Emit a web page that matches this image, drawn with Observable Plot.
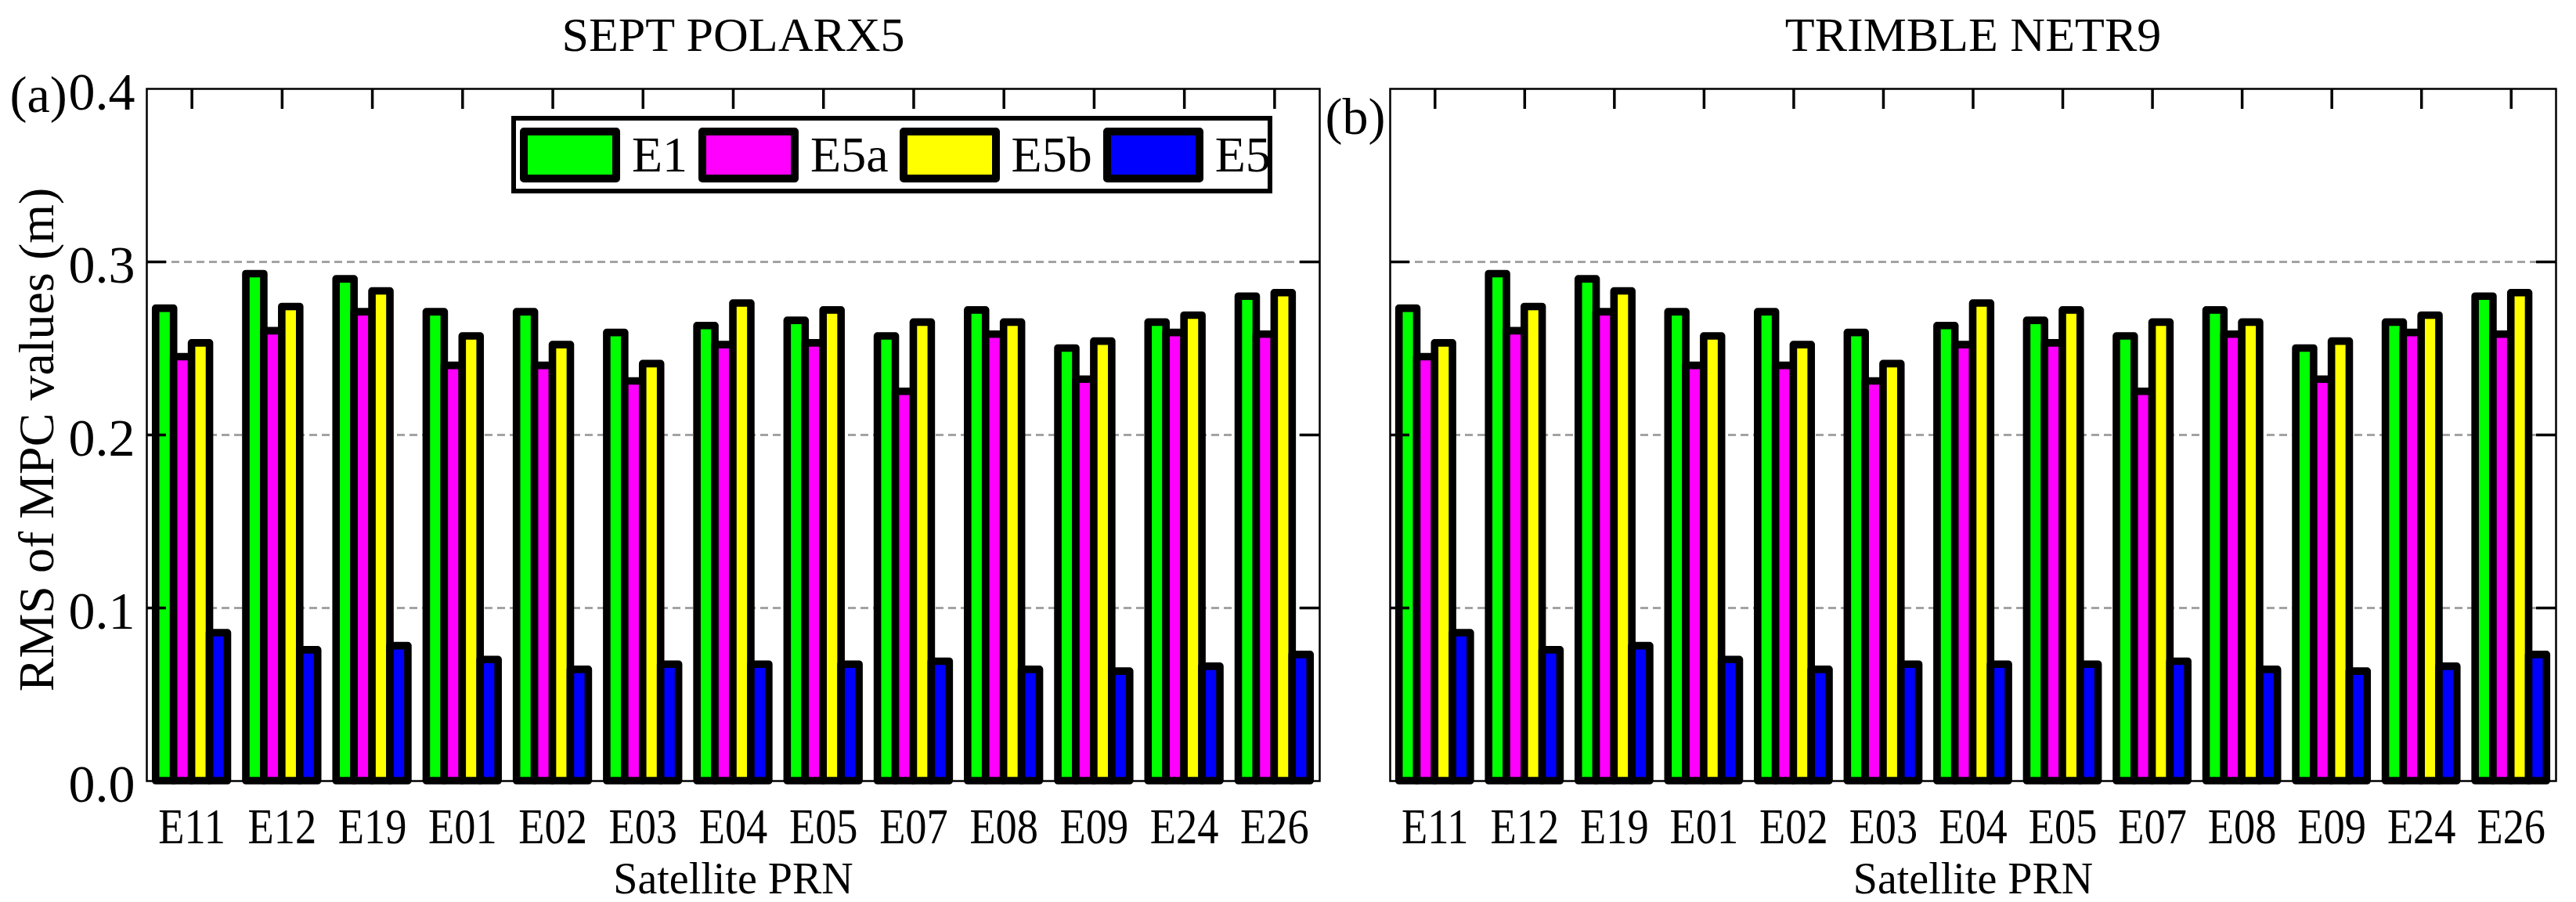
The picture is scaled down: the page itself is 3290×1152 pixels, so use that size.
<!DOCTYPE html>
<html>
<head>
<meta charset="utf-8">
<script src="https://cdn.jsdelivr.net/npm/d3@7"></script>
<script src="https://cdn.jsdelivr.net/npm/@observablehq/plot@0.6"></script>
<style>
  html, body { margin: 0; padding: 0; background: #fff; }
  #chart { position: relative; width: 3290px; height: 1152px; background: #fff;
           font-family: "Liberation Serif", "Times New Roman", serif; }
  #chart svg { position: absolute; top: 0; }
  .legend { position: absolute; box-sizing: border-box; border: 6px solid #000; background: #fff;
            display: flex; align-items: center; padding-left: 5px;
            font-family: "Liberation Serif", "Times New Roman", serif; font-size: 64px; color: #000; }
  .legend .item { display: flex; align-items: center; margin-right: 14px; }
  .legend .sw { box-sizing: border-box; width: 128px; height: 70px; border: 10px solid #000; border-radius: 5px; }
  .legend .lb { margin-left: 15px; line-height: 1; }
</style>
</head>
<body>
<div id="chart"></div>
<script>
// ---- data ----
const prn = ["E11","E12","E19","E01","E02","E03","E04","E05","E07","E08","E09","E24","E26"];
const seriesNames = ["E1","E5a","E5b","E5"];
const seriesColors = ["#00ff00","#ff00ff","#ffff00","#0000ff"];

// SEPT POLARX5
const polarx5_E1  = [0.273,0.293,0.290,0.271,0.271,0.259,0.263,0.266,0.257,0.272,0.250,0.265,0.280];
const polarx5_E5a = [0.245,0.260,0.271,0.240,0.240,0.231,0.252,0.253,0.225,0.258,0.232,0.259,0.258];
const polarx5_E5b = [0.253,0.274,0.283,0.257,0.252,0.241,0.276,0.272,0.265,0.265,0.254,0.269,0.282];
const polarx5_E5  = [0.0855,0.0756,0.078,0.070,0.0643,0.0673,0.0673,0.0673,0.069,0.0643,0.0633,0.0661,0.0729];

// TRIMBLE NETR9
const netr9_E1  = [0.273,0.293,0.290,0.271,0.271,0.259,0.263,0.266,0.257,0.272,0.250,0.265,0.280];
const netr9_E5a = [0.245,0.260,0.271,0.240,0.240,0.231,0.252,0.253,0.225,0.258,0.232,0.259,0.258];
const netr9_E5b = [0.253,0.274,0.283,0.257,0.252,0.241,0.276,0.272,0.265,0.265,0.254,0.269,0.282];
const netr9_E5  = [0.0855,0.0756,0.078,0.070,0.0643,0.0673,0.0673,0.0673,0.069,0.0643,0.0633,0.0661,0.0729];

const yTicks = [0, 0.1, 0.2, 0.3, 0.4];
const gridTicks = [0.1, 0.2, 0.3];
const yLabel = "RMS of MPC values (m)";
const xLabel = "Satellite PRN";

const FONT = "Liberation Serif, Times New Roman, serif";

function squeezeText(svg, selector, s) {
  svg.querySelectorAll(selector).forEach(t => {
    const tr = t.getAttribute("transform") || "";
    const x = +(t.getAttribute("x") || 0);
    t.setAttribute("transform", `${tr} translate(${x},0) scale(${s},1) translate(${-x},0)`);
  });
}

function panel({width, height, marginLeft, marginRight, marginTop, marginBottom, title, tag, tagDx, tagDy, series, showY}) {
  const fw = width - marginLeft - marginRight;
  const fh = height - marginTop - marginBottom;
  const bw = fw / prn.length;
  const barW = bw * 0.199;
  const inset = (bw - barW) / 2;
  const marks = [
    Plot.ruleY(gridTicks, {stroke: "#a3a3a3", strokeWidth: 3, strokeDasharray: "10,6"}),
    ...series.map((vals, i) => Plot.barY(prn, {
      x: prn, y: vals, fill: seriesColors[i], stroke: "#000", strokeWidth: 9.6,
      strokeLinejoin: "round", insetLeft: inset, insetRight: inset, dx: (i - 1.5) * barW
    })),
    Plot.ruleY(gridTicks, {stroke: "#000", strokeWidth: 3.5, insetRight: fw - 25}),
    Plot.ruleY(gridTicks, {stroke: "#000", strokeWidth: 3.5, insetLeft: fw - 25}),
    Plot.ruleX(prn, {x: d => d, stroke: "#000", strokeWidth: 3.5, insetBottom: fh - 26}),
    Plot.frame({stroke: "#000", strokeWidth: 2.5}),
    Plot.axisX({tickSize: 0, tickPadding: 34, fontSize: 64, label: null}),
    Plot.text([title], {frameAnchor: "top", text: d => d, dy: -68, lineAnchor: "middle", fontSize: 62}),
    Plot.text([xLabel], {frameAnchor: "bottom", text: d => d, dy: 103.5, lineAnchor: "top", fontSize: 56}),
    Plot.text([tag], {frameAnchor: "top-left", text: d => d, dx: tagDx, dy: tagDy, textAnchor: "start", lineAnchor: "middle", fontSize: 66})
  ];
  if (showY) {
    marks.push(Plot.axisY({ticks: yTicks, tickSize: 0, tickPadding: 15, tickFormat: d => d.toFixed(1), fontSize: 68, dy: 5, label: null}));
    marks.push(Plot.text([yLabel], {frameAnchor: "left", text: d => d, rotate: -90, dx: -140, dy: 6, textAnchor: "middle", lineAnchor: "middle", fontSize: 64}));
  }
  const svg = Plot.plot({
    width, height, marginLeft, marginRight, marginTop, marginBottom,
    style: {fontFamily: FONT, fontSize: "64px", color: "#000", background: "transparent", overflow: "visible"},
    x: {type: "band", domain: prn, padding: 0, round: false},
    y: {domain: [0, 0.4], axis: showY ? undefined : null},
    marks
  });
  squeezeText(svg, 'g[aria-label="x-axis tick label"] text', 0.85);
  return svg;
}

const chart = document.getElementById("chart");

const left = panel({
  width: 1700, height: 1152, marginLeft: 187, marginRight: 15, marginTop: 113, marginBottom: 155,
  title: "SEPT POLARX5", tag: "(a)", tagDx: -175, tagDy: 8,
  series: [polarx5_E1, polarx5_E5a, polarx5_E5b, polarx5_E5], showY: true
});
left.style.left = "0px";
chart.appendChild(left);

const right = panel({
  width: 1590, height: 1152, marginLeft: 75, marginRight: 26, marginTop: 113, marginBottom: 155,
  title: "TRIMBLE NETR9", tag: "(b)", tagDx: -83, tagDy: 36,
  series: [netr9_E1, netr9_E5a, netr9_E5b, netr9_E5], showY: false
});
right.style.left = "1700px";
chart.appendChild(right);

// legend (inside panel a)
const legend = d3.select(chart).append("div").attr("class", "legend")
  .style("left", "653px").style("top", "148px").style("width", "972px").style("height", "99px");
const items = legend.selectAll(".item").data(seriesNames).join("div").attr("class", "item");
items.append("div").attr("class", "sw").style("background", (d, i) => seriesColors[i]);
items.append("div").attr("class", "lb").text(d => d);
</script>
</body>
</html>
